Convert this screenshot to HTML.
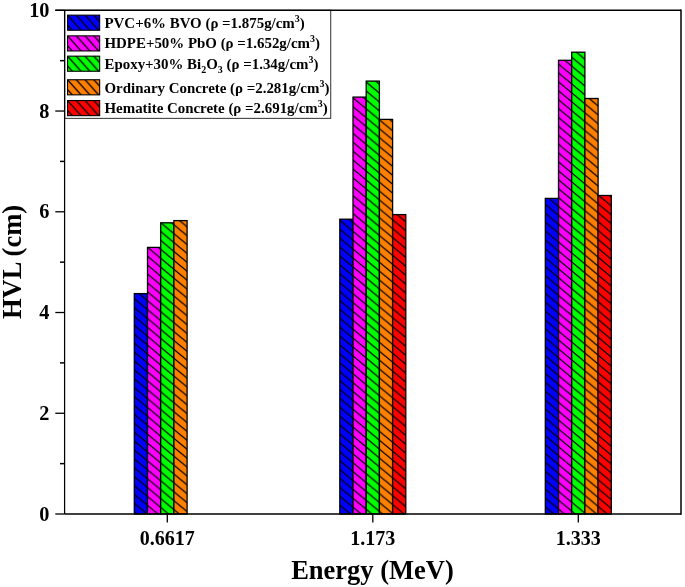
<!DOCTYPE html>
<html><head><meta charset="utf-8"><style>
html,body{margin:0;padding:0;background:#fff;}
body{width:685px;height:587px;overflow:hidden;}
svg{display:block;will-change:transform;}
text{font-family:"Liberation Serif",serif;font-weight:bold;fill:#000;}
</style></head><body>
<svg width="685" height="587" viewBox="0 0 685 587">
<defs>
<pattern id="p0" patternUnits="userSpaceOnUse" width="10.7" height="8.9"><rect width="10.7" height="8.9" fill="#0000ff"/><path d="M-10.7 -8.9L21.4 17.8M-21.4 -8.9L10.7 17.8M0 -8.9L32.099999999999994 17.8" stroke="#000" stroke-width="1.3"/></pattern>
<pattern id="p1" patternUnits="userSpaceOnUse" width="10.7" height="8.9"><rect width="10.7" height="8.9" fill="#ff00ff"/><path d="M-10.7 -8.9L21.4 17.8M-21.4 -8.9L10.7 17.8M0 -8.9L32.099999999999994 17.8" stroke="#000" stroke-width="1.3"/></pattern>
<pattern id="p2" patternUnits="userSpaceOnUse" width="10.7" height="8.9"><rect width="10.7" height="8.9" fill="#00ff00"/><path d="M-10.7 -8.9L21.4 17.8M-21.4 -8.9L10.7 17.8M0 -8.9L32.099999999999994 17.8" stroke="#000" stroke-width="1.3"/></pattern>
<pattern id="p3" patternUnits="userSpaceOnUse" width="10.7" height="8.9"><rect width="10.7" height="8.9" fill="#ff8000"/><path d="M-10.7 -8.9L21.4 17.8M-21.4 -8.9L10.7 17.8M0 -8.9L32.099999999999994 17.8" stroke="#000" stroke-width="1.3"/></pattern>
<pattern id="p4" patternUnits="userSpaceOnUse" width="10.7" height="8.9"><rect width="10.7" height="8.9" fill="#ff0000"/><path d="M-10.7 -8.9L21.4 17.8M-21.4 -8.9L10.7 17.8M0 -8.9L32.099999999999994 17.8" stroke="#000" stroke-width="1.3"/></pattern>
<pattern id="l0" patternUnits="userSpaceOnUse" x="67" y="14.6" width="8.8" height="9.8"><rect width="8.8" height="9.8" fill="#0000ff"/><path d="M-8.8 -9.8L17.6 19.6M-17.6 -9.8L8.8 19.6M0 -9.8L26.400000000000002 19.6" stroke="#000" stroke-width="1.3"/></pattern>
<pattern id="l1" patternUnits="userSpaceOnUse" x="67" y="35.3" width="8.8" height="9.8"><rect width="8.8" height="9.8" fill="#ff00ff"/><path d="M-8.8 -9.8L17.6 19.6M-17.6 -9.8L8.8 19.6M0 -9.8L26.400000000000002 19.6" stroke="#000" stroke-width="1.3"/></pattern>
<pattern id="l2" patternUnits="userSpaceOnUse" x="67" y="55.6" width="8.8" height="9.8"><rect width="8.8" height="9.8" fill="#00ff00"/><path d="M-8.8 -9.8L17.6 19.6M-17.6 -9.8L8.8 19.6M0 -9.8L26.400000000000002 19.6" stroke="#000" stroke-width="1.3"/></pattern>
<pattern id="l3" patternUnits="userSpaceOnUse" x="67" y="79.2" width="8.8" height="9.8"><rect width="8.8" height="9.8" fill="#ff8000"/><path d="M-8.8 -9.8L17.6 19.6M-17.6 -9.8L8.8 19.6M0 -9.8L26.400000000000002 19.6" stroke="#000" stroke-width="1.3"/></pattern>
<pattern id="l4" patternUnits="userSpaceOnUse" x="67" y="100.0" width="8.8" height="9.8"><rect width="8.8" height="9.8" fill="#ff0000"/><path d="M-8.8 -9.8L17.6 19.6M-17.6 -9.8L8.8 19.6M0 -9.8L26.400000000000002 19.6" stroke="#000" stroke-width="1.3"/></pattern>
</defs>
<rect width="685" height="587" fill="#fff"/>
<rect x="134.30" y="293.60" width="13.20" height="220.40" fill="url(#p0)" stroke="#000" stroke-width="1.3"/>
<rect x="147.50" y="247.40" width="13.20" height="266.60" fill="url(#p1)" stroke="#000" stroke-width="1.3"/>
<rect x="160.70" y="222.80" width="13.20" height="291.20" fill="url(#p2)" stroke="#000" stroke-width="1.3"/>
<rect x="173.90" y="220.60" width="13.20" height="293.40" fill="url(#p3)" stroke="#000" stroke-width="1.3"/>
<rect x="339.80" y="219.20" width="13.20" height="294.80" fill="url(#p0)" stroke="#000" stroke-width="1.3"/>
<rect x="353.00" y="97.10" width="13.20" height="416.90" fill="url(#p1)" stroke="#000" stroke-width="1.3"/>
<rect x="366.20" y="81.10" width="13.20" height="432.90" fill="url(#p2)" stroke="#000" stroke-width="1.3"/>
<rect x="379.40" y="119.40" width="13.20" height="394.60" fill="url(#p3)" stroke="#000" stroke-width="1.3"/>
<rect x="392.60" y="214.60" width="13.20" height="299.40" fill="url(#p4)" stroke="#000" stroke-width="1.3"/>
<rect x="545.30" y="198.40" width="13.20" height="315.60" fill="url(#p0)" stroke="#000" stroke-width="1.3"/>
<rect x="558.50" y="60.30" width="13.20" height="453.70" fill="url(#p1)" stroke="#000" stroke-width="1.3"/>
<rect x="571.70" y="52.20" width="13.20" height="461.80" fill="url(#p2)" stroke="#000" stroke-width="1.3"/>
<rect x="584.90" y="98.50" width="13.20" height="415.50" fill="url(#p3)" stroke="#000" stroke-width="1.3"/>
<rect x="598.10" y="195.50" width="13.20" height="318.50" fill="url(#p4)" stroke="#000" stroke-width="1.3"/>
<path d="M64.6 514H681" stroke="#000" stroke-width="1.4"/>
<path d="M681 9.600000000000001V514.7" stroke="#000" stroke-width="1.5"/>
<line x1="55.3" y1="514.00" x2="64.6" y2="514.00" stroke="#000" stroke-width="1.3"/>
<text x="49.5" y="520.50" font-size="20.3" text-anchor="end">0</text>
<line x1="59.99999999999999" y1="463.63" x2="64.6" y2="463.63" stroke="#000" stroke-width="1.5"/>
<line x1="55.3" y1="413.26" x2="64.6" y2="413.26" stroke="#000" stroke-width="1.3"/>
<text x="49.5" y="419.76" font-size="20.3" text-anchor="end">2</text>
<line x1="59.99999999999999" y1="362.89" x2="64.6" y2="362.89" stroke="#000" stroke-width="1.5"/>
<line x1="55.3" y1="312.52" x2="64.6" y2="312.52" stroke="#000" stroke-width="1.3"/>
<text x="49.5" y="319.02" font-size="20.3" text-anchor="end">4</text>
<line x1="59.99999999999999" y1="262.15" x2="64.6" y2="262.15" stroke="#000" stroke-width="1.5"/>
<line x1="55.3" y1="211.78" x2="64.6" y2="211.78" stroke="#000" stroke-width="1.3"/>
<text x="49.5" y="218.28" font-size="20.3" text-anchor="end">6</text>
<line x1="59.99999999999999" y1="161.41" x2="64.6" y2="161.41" stroke="#000" stroke-width="1.5"/>
<line x1="55.3" y1="111.04" x2="64.6" y2="111.04" stroke="#000" stroke-width="1.3"/>
<text x="49.5" y="117.54" font-size="20.3" text-anchor="end">8</text>
<line x1="59.99999999999999" y1="60.67" x2="64.6" y2="60.67" stroke="#000" stroke-width="1.5"/>
<line x1="55.3" y1="10.30" x2="64.6" y2="10.30" stroke="#000" stroke-width="1.3"/>
<text x="49.5" y="16.80" font-size="20.3" text-anchor="end">10</text>
<line x1="167.3" y1="514" x2="167.3" y2="522.5" stroke="#000" stroke-width="1.3"/>
<text x="167.3" y="544.8" font-size="20" text-anchor="middle">0.6617</text>
<line x1="372.8" y1="514" x2="372.8" y2="522.5" stroke="#000" stroke-width="1.3"/>
<text x="372.8" y="544.8" font-size="20" text-anchor="middle">1.173</text>
<line x1="578.3" y1="514" x2="578.3" y2="522.5" stroke="#000" stroke-width="1.3"/>
<text x="578.3" y="544.8" font-size="20" text-anchor="middle">1.333</text>
<text x="372.5" y="578.6" font-size="26.5" text-anchor="middle">Energy (MeV)</text>
<text transform="translate(21.3,262) rotate(-90)" font-size="26.5" text-anchor="middle">HVL (cm)</text>
<rect x="64.7" y="10.3" width="266" height="108.1" fill="#fff" stroke="#444" stroke-width="1.1"/>
<path d="M55.3 10.3H681" stroke="#000" stroke-width="1.5"/>
<path d="M64.6 10.3V514" stroke="#000" stroke-width="1.25"/>
<rect x="67.55" y="15.15" width="32.1" height="15.1" fill="url(#l0)" stroke="#000" stroke-width="1.1"/>
<text x="104.5" y="27.5" font-size="14.92">PVC+6% BVO (ρ =1.875g/cm<tspan dy="-6" font-size="10">3</tspan><tspan dy="6">)</tspan></text>
<rect x="67.55" y="35.85" width="32.1" height="15.1" fill="url(#l1)" stroke="#000" stroke-width="1.1"/>
<text x="104.5" y="48.1" font-size="14.92">HDPE+50% PbO (ρ =1.652g/cm<tspan dy="-6" font-size="10">3</tspan><tspan dy="6">)</tspan></text>
<rect x="67.55" y="56.15" width="32.1" height="15.1" fill="url(#l2)" stroke="#000" stroke-width="1.1"/>
<text x="104.5" y="68.8" font-size="14.92">Epoxy+30% Bi<tspan dy="4" font-size="10">2</tspan><tspan dy="-4">O</tspan><tspan dy="4" font-size="10">3</tspan><tspan dy="-4"> (ρ =1.34g/cm</tspan><tspan dy="-6" font-size="10">3</tspan><tspan dy="6">)</tspan></text>
<rect x="67.55" y="79.75" width="32.1" height="15.1" fill="url(#l3)" stroke="#000" stroke-width="1.1"/>
<text x="104.5" y="92.6" font-size="14.92">Ordinary Concrete (ρ =2.281g/cm<tspan dy="-6" font-size="10">3</tspan><tspan dy="6">)</tspan></text>
<rect x="67.55" y="100.55" width="32.1" height="15.1" fill="url(#l4)" stroke="#000" stroke-width="1.1"/>
<text x="104.5" y="112.8" font-size="14.92">Hematite Concrete (ρ =2.691g/cm<tspan dy="-6" font-size="10">3</tspan><tspan dy="6">)</tspan></text>
</svg></body></html>
